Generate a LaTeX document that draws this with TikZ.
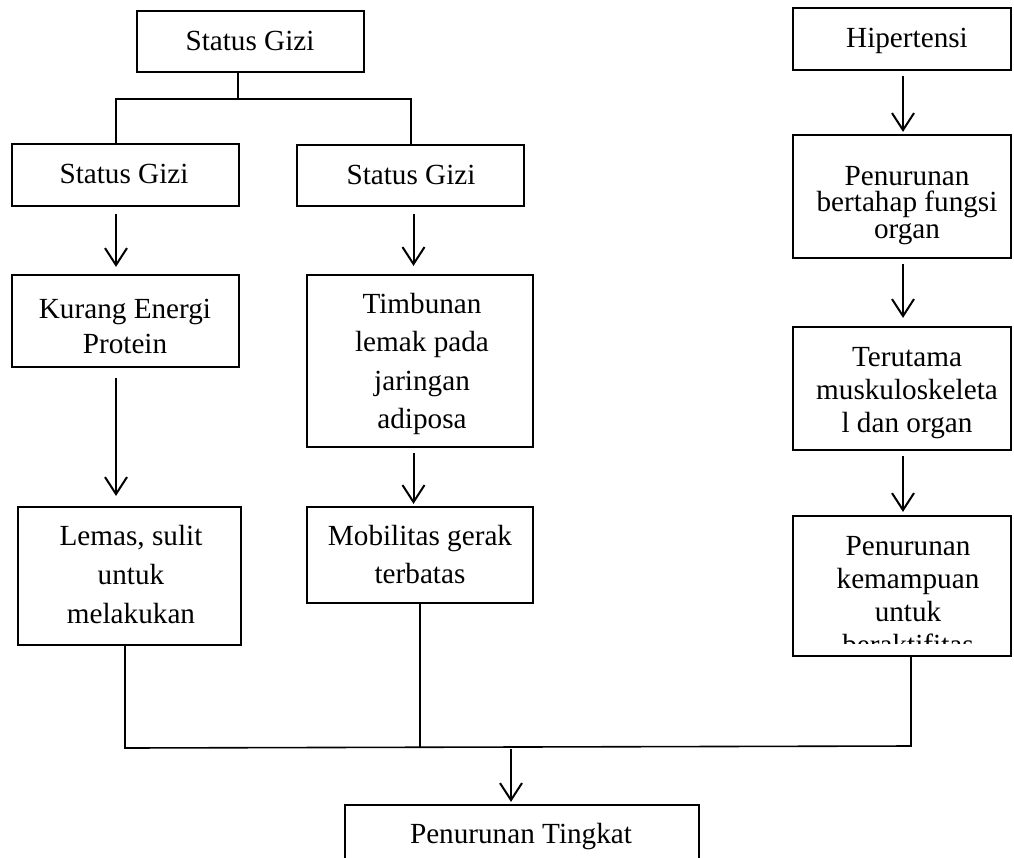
\documentclass[tikz,border=0pt]{standalone}
\usepackage{fontspec}
\setmainfont{Liberation Serif}
\usetikzlibrary{arrows.meta}
\newcommand{\firstln}{\rule{0pt}{20pt}}
\begin{document}
\begin{tikzpicture}[x=1pt,y=-1pt,
  box/.style={draw, line width=2.2pt, inner sep=0pt},
  txt/.style={align=center, inner sep=0pt, anchor=north, font=\fontsize{29.2}{#1}\selectfont},
  txt/.default=38.5,
  conn/.style={line width=1.6pt},
  arr/.style={line width=2pt, -{Straight Barb[length=17pt,width=22pt]}}]
\clip (0,0) rectangle (1014,857);
\fill[white] (0,0) rectangle (1014,857);

% boxes
\node[box, minimum width=227pt, minimum height=61pt] (top) at (250.5,41.5) {};
\node[box, minimum width=227pt, minimum height=62pt] (sgA) at (125.5,175) {};
\node[box, minimum width=227pt, minimum height=61pt] (sgB) at (410.5,175.5) {};
\node[box, minimum width=227pt, minimum height=92pt] (kep) at (125.5,321) {};
\node[box, minimum width=223pt, minimum height=138pt] (lemas) at (129.5,576) {};
\node[box, minimum width=226pt, minimum height=172pt] (timb) at (420,361) {};
\node[box, minimum width=226pt, minimum height=96pt] (mob) at (420,555) {};
\node[box, minimum width=218pt, minimum height=62pt] (hip) at (902,39) {};
\node[box, minimum width=218pt, minimum height=123pt] (pen1) at (902,196.5) {};
\node[box, minimum width=218pt, minimum height=123pt] (ter) at (902,388.5) {};
\node[box, minimum width=218pt, minimum height=140pt] (pen2) at (902,586) {};
\node[box, minimum width=354pt, minimum height=130pt] (fin) at (522,870) {};

% texts (north = first baseline - 20)
\node[txt] (topT) at (250,30) {\firstln Status Gizi};
\node[txt] (sgAT) at (124,163) {\firstln Status Gizi};
\node[txt] (sgBT) at (411,164) {\firstln Status Gizi};
\node[txt=35] (kepT) at (125,298) {\firstln Kurang Energi\\Protein};
\node[txt=39] (lemasT) at (131,525) {\firstln Lemas, sulit\\untuk\\melakukan};
\node[txt] (timbT) at (422,293) {\firstln Timbunan\\lemak pada\\jaringan\\adiposa};
\node[txt=38] (mobT) at (420,525) {\firstln Mobilitas gerak\\terbatas};
\node[txt] (hipT) at (907,27) {\firstln Hipertensi};
\node[txt=26.5] (pen1T) at (907,165) {\firstln Penurunan\\bertahap fungsi\\organ};
\node[txt=33] (terT) at (907,346) {\firstln Terutama\\muskuloskeleta\\l dan organ};
\begin{scope}
  \clip (793,516) rectangle (1011,643);
  \node[txt=33] (pen2T) at (908,535) {\firstln Penurunan\\kemampuan\\untuk\\beraktifitas};
\end{scope}
\node[txt] (finT) at (521,823) {\firstln Penurunan Tingkat};

% junction coordinates
\coordinate (jt) at (238,99);
\coordinate (jl) at (116,99);
\coordinate (jr) at (411,99);
\coordinate (cm) at (413.5,0);
\coordinate (cr) at (903,0);
\coordinate (bl) at (125,748);
\coordinate (bm) at (420,747);
\coordinate (br) at (911,746);
\coordinate (ba) at (511,747);

% tree connector from top
\draw[conn] (jt |- top.south) -- (jt);
\draw[conn] (jl |- sgA.north) -- (jl) -- (jr) -- (jr |- sgB.north);

% arrows
\draw[arr, shorten <=7pt, shorten >=7pt] (jl |- sgA.south) -- (jl |- kep.north);
\draw[arr, shorten <=10pt, shorten >=10pt] (jl |- kep.south) -- (jl |- lemas.north);
\draw[arr, shorten <=7pt, shorten >=8pt] (cm |- sgB.south) -- (cm |- timb.north);
\draw[arr, shorten <=5pt, shorten >=2pt] (cm |- timb.south) -- (cm |- mob.north);
\draw[arr, shorten <=5pt, shorten >=2pt] (cr |- hip.south) -- (cr |- pen1.north);
\draw[arr, shorten <=5pt, shorten >=8pt] (cr |- pen1.south) -- (cr |- ter.north);
\draw[arr, shorten <=5pt, shorten >=3pt] (cr |- ter.south) -- (cr |- pen2.north);

% bottom collector
\draw[conn] (bl |- lemas.south) -- (bl) -- (br) -- (br |- pen2.south);
\draw[conn] (bm |- mob.south) -- (bm);
\draw[arr, shorten <=2pt, shorten >=2pt] (ba) -- (ba |- fin.north);
\end{tikzpicture}
\end{document}
